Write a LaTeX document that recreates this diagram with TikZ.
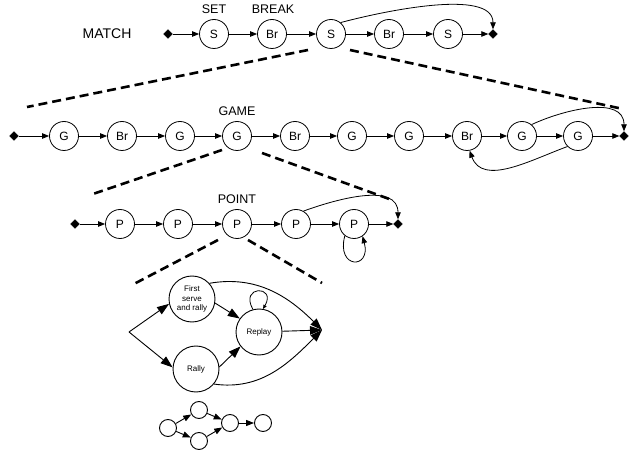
\documentclass[tikz,border=0pt]{standalone}
\usepackage{fontspec}
\setmainfont{Liberation Sans}
\usetikzlibrary{shapes.geometric,arrows.meta}

\tikzset{
  state/.style={draw, circle, line width=0.8pt, minimum size=29pt, inner sep=0pt, font=\fontsize{12}{12}\selectfont},
  bigstate/.style={draw, circle, line width=0.9pt, minimum size=46pt, inner sep=0pt, align=center, font=\fontsize{8}{9.5}\selectfont},
  dotstate/.style={draw, circle, line width=0.9pt, minimum size=17pt, inner sep=0pt},
  term/.style={draw, fill, diamond, minimum size=9pt, inner sep=0pt},
  trans/.style={-{Triangle[length=7pt,width=5.5pt]}, line width=0.8pt},
  bigtrans/.style={-{Triangle[length=12pt,width=8.5pt]}, line width=0.9pt},
  midtrans/.style={-{Triangle[length=8pt,width=6pt]}, line width=0.9pt},
  zoomline/.style={line width=2.6pt, dash pattern=on 9pt off 5pt},
  lbl/.style={font=\fontsize{12.5}{12.5}\selectfont},
}

\begin{document}
\begin{tikzpicture}[x=1pt, y=-1pt]
    \useasboundingbox (0,0) rectangle (643,457);
    % Match level:
    \node[font=\fontsize{14}{14}\selectfont] (match) at (107,34) {MATCH};
    \node[term] (m0) at (168,34) {};
    \node[state] (m1) at (214,34) {S};
    \node[state] (m2) at (272,34) {Br};
    \node[state] (m3) at (331,34) {S};
    \node[state] (m4) at (389,34) {Br};
    \node[state] (m5) at (448,34) {S};
    \node[term] (m6) at (493,34) {};
    \node[lbl] (set) at (214,9) {SET};
    \node[lbl] (break) at (273,9) {BREAK};
    \draw[trans] (m0) -- (m1);
    \draw[trans] (m1) -- (m2);
    \draw[trans] (m2) -- (m3);
    \draw[trans] (m3) -- (m4);
    \draw[trans] (m4) -- (m5);
    \draw[trans] (m5) -- (m6);
    \draw[trans] (m3.50) to[out=15, in=90, looseness=0.7] (m6.north);

    % Zoom from the set into the games:
    \coordinate (zm1) at (308,50);
    \coordinate (zm2) at (27,107);
    \coordinate (zm3) at (350,50);
    \coordinate (zm4) at (623,109);
    \draw[zoomline] (zm1) -- (zm2);
    \draw[zoomline] (zm3) -- (zm4);

    % Game level:
    \node[term] (g0) at (14,136) {};
    \node[state] (g1) at (64,136) {G};
    \node[state] (g2) at (122,136) {Br};
    \node[state] (g3) at (180,136) {G};
    \node[state] (g4) at (237,136) {G};
    \node[state] (g5) at (295,136) {Br};
    \node[state] (g6) at (352,136) {G};
    \node[state] (g7) at (409,136) {G};
    \node[state] (g8) at (467,136) {Br};
    \node[state] (g9) at (522,136) {G};
    \node[state] (g10) at (578,136) {G};
    \node[term] (g11) at (624,136) {};
    \node[lbl] (game) at (237,111) {GAME};
    \draw[trans] (g0) -- (g1);
    \draw[trans] (g1) -- (g2);
    \draw[trans] (g2) -- (g3);
    \draw[trans] (g3) -- (g4);
    \draw[trans] (g4) -- (g5);
    \draw[trans] (g5) -- (g6);
    \draw[trans] (g6) -- (g7);
    \draw[trans] (g7) -- (g8);
    \draw[trans] (g8) -- (g9);
    \draw[trans] (g9) -- (g10);
    \draw[trans] (g10) -- (g11);
    \draw[trans] (g9.50) to[out=25, in=90] (g11.north);
    \draw[trans] (g10.225) to[out=200, in=-70] (g8.-80);

    % Zoom from the game into the points:
    \coordinate (zg1) at (222,150);
    \coordinate (zg2) at (90,195);
    \coordinate (zg3) at (262,153);
    \coordinate (zg4) at (392,200);
    \draw[zoomline] (zg1) -- (zg2);
    \draw[zoomline] (zg3) -- (zg4);

    % Point level:
    \node[term] (p0) at (75,224) {};
    \node[state] (p1) at (120,224) {P};
    \node[state] (p2) at (178,224) {P};
    \node[state] (p3) at (237,224) {P};
    \node[state] (p4) at (296,224) {P};
    \node[state] (p5) at (354,224) {P};
    \node[term] (p6) at (398,224) {};
    \node[lbl] (point) at (237,199) {POINT};
    \draw[trans] (p0) -- (p1);
    \draw[trans] (p1) -- (p2);
    \draw[trans] (p2) -- (p3);
    \draw[trans] (p3) -- (p4);
    \draw[trans] (p4) -- (p5);
    \draw[trans] (p5) -- (p6);
    \draw[trans] (p4.60) to[out=20, in=90] (p6.north);
    \draw[trans] (p5.-128) to[out=-105, in=-75, looseness=5] (p5.-55);

    % Zoom from the point into the rallies:
    \coordinate (zp1) at (218,240);
    \coordinate (zp2) at (132,285);
    \coordinate (zp3) at (248,240);
    \coordinate (zp4) at (322,283);
    \draw[zoomline] (zp1) -- (zp2);
    \draw[zoomline] (zp3) -- (zp4);

    % Rally level:
    \coordinate (fork) at (129,332);
    \coordinate (sink) at (322,330);
    \node[bigstate] (first) at (192,299) {First\\serve\\and rally};
    \node[bigstate] (rally) at (196,369) {Rally};
    \node[bigstate] (replay) at (259,332) {Replay};
    \draw[bigtrans] (fork) -- (first.-168);
    \draw[bigtrans] (fork) -- (rally.176);
    \draw[bigtrans] (first.-10) -- (replay.145);
    \draw[bigtrans] (rally.5) -- (replay.-142);
    \draw[bigtrans] (replay) -- (sink);
    \draw[bigtrans] (first.42) to[out=10, in=135] (sink);
    \draw[bigtrans] (rally.-40) to[out=-8, in=-135] (sink);
    \draw[-{Triangle[length=4pt,width=3.5pt]}, line width=0.8pt] (replay.105) to[out=120, in=60, looseness=7] (replay.80);

    % Small graph:
    \node[dotstate] (s1) at (168,428) {};
    \node[dotstate] (s2) at (199,410) {};
    \node[dotstate] (s3) at (199,441) {};
    \node[dotstate] (s4) at (230,423) {};
    \node[dotstate] (s5) at (263,423) {};
    \draw[midtrans] (s1) -- (s2);
    \draw[midtrans] (s1) -- (s3);
    \draw[midtrans] (s2) -- (s4);
    \draw[midtrans] (s3) -- (s4);
    \draw[midtrans] (s4) -- (s5);
\end{tikzpicture}
\end{document}
